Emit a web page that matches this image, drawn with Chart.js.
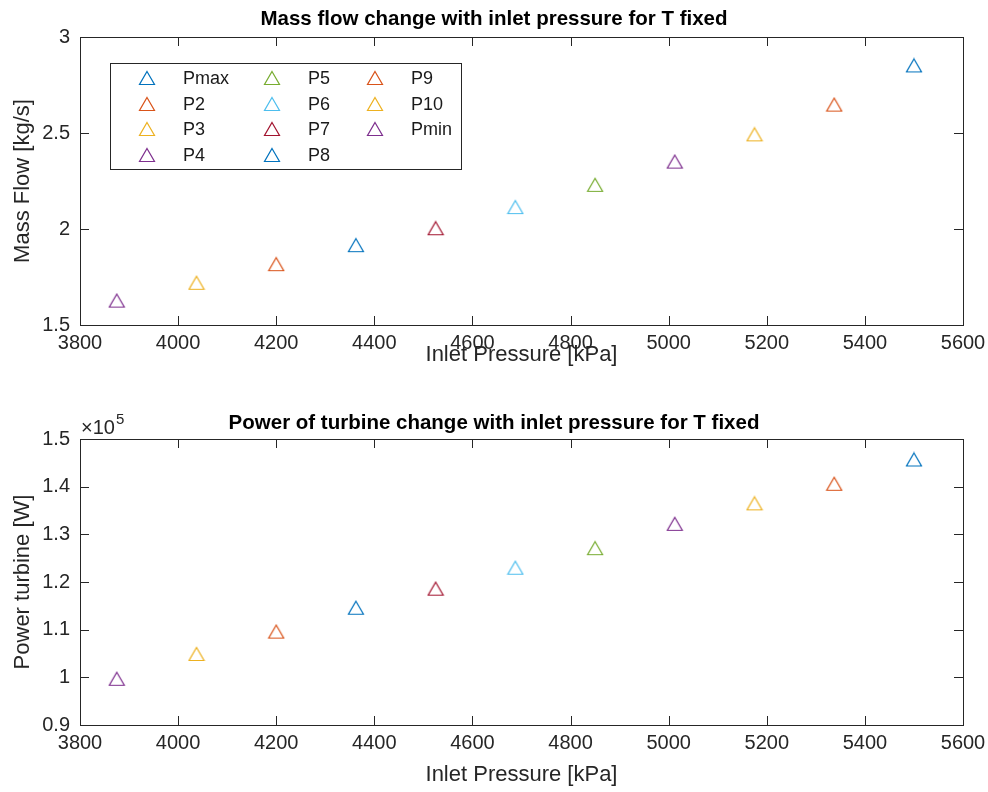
<!DOCTYPE html>
<html>
<head>
<meta charset="utf-8">
<script src="https://cdn.jsdelivr.net/npm/chart.js@4.4.1/dist/chart.umd.min.js"></script>
<style>
    body { margin: 0; background: #fff; }
    canvas { display: block; }
</style>
</head>
<body>
<canvas id="flowChart" width="988" height="396"></canvas>
<canvas id="powerChart" width="988" height="396"></canvas>
<script>
// operating points, from max to min inlet pressure
const seriesLabels = ['Pmax', 'P2', 'P3', 'P4', 'P5', 'P6', 'P7', 'P8', 'P9', 'P10', 'Pmin'];
const inletPressure = [5500, 5337.5, 5175, 5012.5, 4850, 4687.5, 4525, 4362.5, 4200, 4037.5, 3875]; // kPa
const massFlow = [2.852, 2.648, 2.493, 2.351, 2.230, 2.114, 2.004, 1.916, 1.817, 1.720, 1.627]; // kg/s
const turbinePower = [145700, 140600, 136500, 132200, 127100, 123000, 118600, 114600, 109600, 104900, 99700]; // W

// default line colour order
const colorOrder = ['#0072BD', '#D95319', '#EDB120', '#7E2F8E', '#77AC30', '#4DBEEE', '#A2142F'];
const axisColor = '#262626';
const fontFamily = '"Liberation Sans", Arial, sans-serif';

Chart.defaults.font.family = fontFamily;
Chart.defaults.color = axisColor;

// open triangle marker, centred on its bounding box
function triangleMarker(color) {
    let c = document.createElement('canvas');
    c.width = 18;
    c.height = 16;
    let g = c.getContext('2d');
    g.strokeStyle = color;
    g.lineWidth = 1.2;
    g.beginPath();
    g.moveTo(9, 1.5);
    g.lineTo(16.5, 14.5);
    g.lineTo(1.5, 14.5);
    g.closePath();
    g.stroke();
    return c;
}

const markers = seriesLabels.map((l, i) => triangleMarker(colorOrder[i % colorOrder.length]));

// box around the axes with inward tick marks on all four sides
const axesFrame = {
    id: 'axesFrame',
    afterDraw(chart, args, opts) {
        const ctx = chart.ctx;
        const a = chart.chartArea;
        const xs = chart.scales.x;
        const ys = chart.scales.y;
        const len = 9;
        ctx.save();
        ctx.strokeStyle = axisColor;
        ctx.lineWidth = 1;
        ctx.strokeRect(Math.round(a.left) + 0.5, Math.round(a.top) + 0.5, Math.round(a.right - a.left), Math.round(a.bottom - a.top));
        ctx.beginPath();
        xs.ticks.forEach(t => {
            let px = Math.round(xs.getPixelForValue(t.value)) + 0.5;
            ctx.moveTo(px, a.bottom);
            ctx.lineTo(px, a.bottom - len);
            ctx.moveTo(px, a.top);
            ctx.lineTo(px, a.top + len);
        });
        ys.ticks.forEach(t => {
            let py = Math.round(ys.getPixelForValue(t.value)) + 0.5;
            ctx.moveTo(a.left, py);
            ctx.lineTo(a.left + len, py);
            ctx.moveTo(a.right, py);
            ctx.lineTo(a.right - len, py);
        });
        ctx.stroke();

        if (opts.exponent) {
            ctx.fillStyle = axisColor;
            ctx.textBaseline = 'alphabetic';
            ctx.font = '20px ' + fontFamily;
            ctx.fillText('×10', a.left + 1, a.top - 5);
            let w = ctx.measureText('×10').width;
            ctx.font = '15px ' + fontFamily;
            ctx.fillText(opts.exponent, a.left + 2 + w, a.top - 15);
        }
        ctx.restore();
    }
};

// legend filled column by column
const columnLegend = {
    id: 'columnLegend',
    afterDraw(chart, args, opts) {
        if (!opts.box) return;
        const ctx = chart.ctx;
        const [bx, by, bw, bh] = opts.box;
        ctx.save();
        ctx.fillStyle = '#fff';
        ctx.fillRect(bx, by, bw, bh);
        ctx.strokeStyle = axisColor;
        ctx.lineWidth = 1;
        ctx.strokeRect(bx + 0.5, by + 0.5, bw, bh);
        ctx.font = '18px ' + fontFamily;
        ctx.fillStyle = '#1a1a1a';
        ctx.textBaseline = 'middle';
        chart.data.datasets.forEach((ds, i) => {
            let col = Math.floor(i / opts.rows);
            let row = i % opts.rows;
            let x = bx + opts.colX[col];
            let y = by + opts.rowY + row * opts.rowGap;
            ctx.drawImage(ds.pointStyle, Math.round(x - 9), Math.round(y - 8));
            ctx.fillText(ds.label, x + opts.textGap, y + 1);
        });
        ctx.restore();
    }
};

function makeChart(id, yValues, cfg) {
    return new Chart(document.getElementById(id), {
        type: 'scatter',
        data: {
            datasets: seriesLabels.map((label, i) => ({
                label: label,
                data: [{x: inletPressure[i], y: yValues[i]}],
                pointStyle: markers[i],
                pointRadius: 9,
                borderColor: colorOrder[i % colorOrder.length],
                backgroundColor: colorOrder[i % colorOrder.length]
            }))
        },
        options: {
            responsive: false,
            animation: false,
            events: [],
            layout: {padding: 0},
            plugins: {
                legend: {display: false},
                tooltip: {enabled: false},
                title: {
                    display: true,
                    text: cfg.title,
                    color: '#000',
                    font: {size: 20.5, weight: 'bold'},
                    padding: cfg.titlePad
                },
                axesFrame: {exponent: cfg.exponent},
                columnLegend: cfg.legend || {}
            },
            scales: {
                x: {
                    type: 'linear',
                    min: 3800,
                    max: 5600,
                    grid: {display: false, drawTicks: false},
                    border: {display: false},
                    ticks: {
                        stepSize: 200,
                        padding: 6,
                        font: {size: 20},
                        callback: v => String(v)
                    },
                    title: {
                        display: true,
                        text: 'Inlet Pressure [kPa]',
                        font: {size: 22},
                        padding: {top: 4, bottom: cfg.xTitlePad}
                    },
                    afterFit: s => {
                        s.height = cfg.xHeight;
                        s.paddingLeft = 0;
                        s.paddingRight = 25;
                    }
                },
                y: {
                    min: cfg.yMin,
                    max: cfg.yMax,
                    grid: {display: false, drawTicks: false},
                    border: {display: false},
                    ticks: {
                        stepSize: cfg.yStep,
                        padding: 10,
                        font: {size: 20},
                        callback: cfg.yFormat
                    },
                    title: {
                        display: true,
                        text: cfg.yTitle,
                        font: {size: 22},
                        padding: {top: 10, bottom: 4}
                    },
                    afterFit: s => { s.width = 80; }
                }
            }
        },
        plugins: [axesFrame, columnLegend]
    });
}

const flowChart = makeChart('flowChart', massFlow, {
    title: 'Mass flow change with inlet pressure for T fixed',
    titlePad: {top: 6.7, bottom: 5.7},
    yTitle: 'Mass Flow [kg/s]',
    yMin: 1.5,
    yMax: 3,
    yStep: 0.5,
    yFormat: v => String(v),
    xHeight: 71,
    xTitlePad: 28,
    legend: {box: [110, 63, 351, 106], rows: 4, colX: [37, 162, 265], rowY: 15, rowGap: 25.7, textGap: 36}
});

const powerChart = makeChart('powerChart', turbinePower, {
    title: 'Power of turbine change with inlet pressure for T fixed',
    titlePad: {top: 14.7, bottom: 3.7},
    yTitle: 'Power turbine [W]',
    yMin: 90000,
    yMax: 150000,
    yStep: 10000,
    yFormat: v => String(parseFloat((v / 1e5).toFixed(2))),
    exponent: '5',
    xHeight: 67,
    xTitlePad: 4
});
</script>
</body>
</html>
